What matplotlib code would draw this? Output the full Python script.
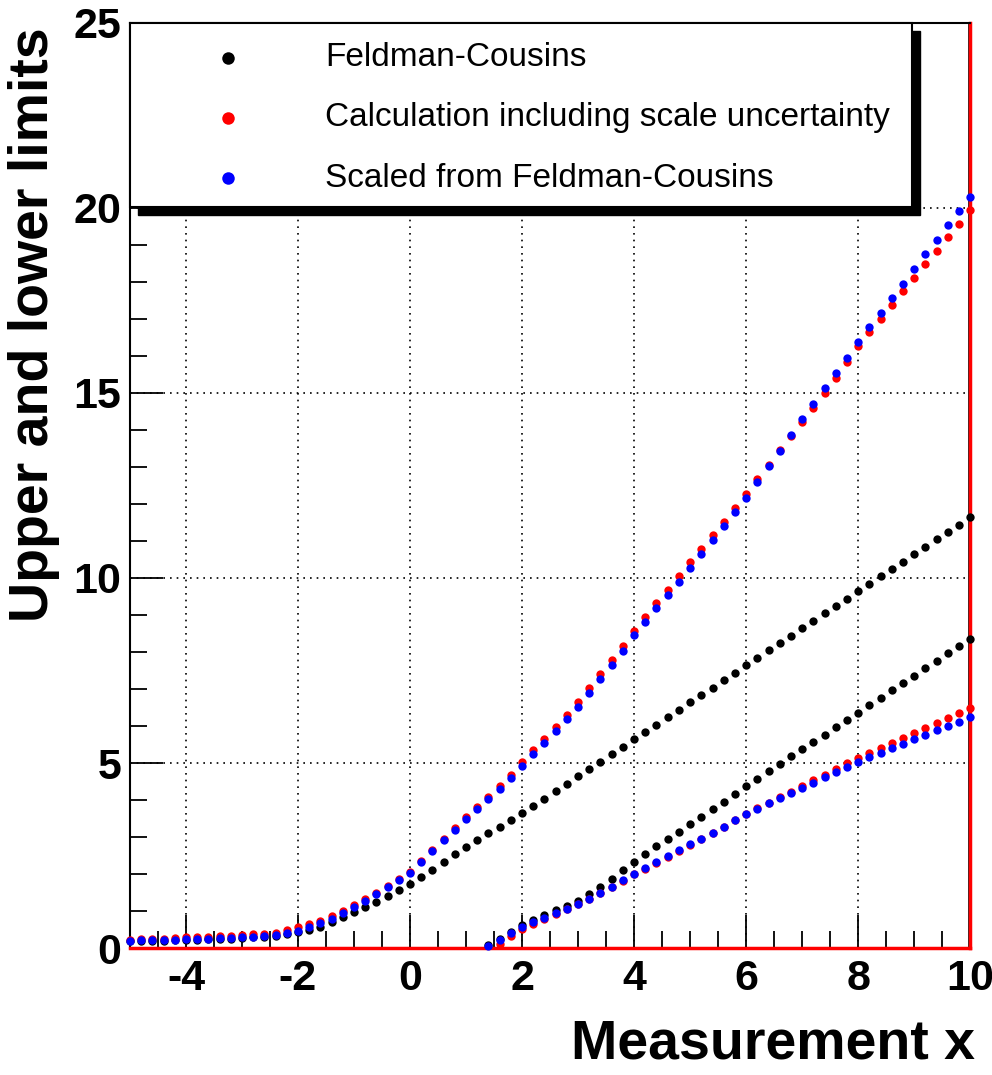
import numpy as np
import matplotlib.pyplot as plt
from matplotlib.patches import Rectangle

plt.rcParams['font.family'] = ['Liberation Sans', 'DejaVu Sans']
plt.rcParams['axes.unicode_minus'] = False

# measurement grid (step 0.2)
x_up = np.round(np.arange(-5.0, 10.01, 0.2), 1)
x_low = np.round(np.arange(1.4, 10.01, 0.2), 1)

# Feldman-Cousins upper limit
fc_upper = [0.18, 0.19, 0.19, 0.20, 0.21, 0.22, 0.23, 0.24, 0.25, 0.26,
            0.27, 0.29, 0.31, 0.33, 0.37, 0.43, 0.50, 0.58, 0.70, 0.84,
            0.98, 1.10, 1.26, 1.42, 1.58, 1.74, 1.93, 2.12, 2.33, 2.54,
            2.74, 2.93, 3.10, 3.28, 3.47, 3.66, 3.84, 4.04, 4.24, 4.44,
            4.64, 4.84, 5.04, 5.24, 5.44, 5.64, 5.84, 6.04, 6.24, 6.44,
            6.64, 6.84, 7.04, 7.24, 7.44, 7.64, 7.84, 8.04, 8.24, 8.44,
            8.64, 8.84, 9.04, 9.24, 9.44, 9.64, 9.84, 10.04, 10.24, 10.44,
            10.64, 10.84, 11.04, 11.24, 11.44, 11.64]

# Calculation including scale uncertainty, upper limit
calc_upper = [0.22, 0.24, 0.25, 0.26, 0.28, 0.29, 0.30, 0.31, 0.32, 0.34,
              0.35, 0.37, 0.39, 0.42, 0.48, 0.56, 0.64, 0.74, 0.86, 1.01,
              1.17, 1.33, 1.50, 1.68, 1.87, 2.06, 2.35, 2.65, 2.95, 3.24,
              3.53, 3.81, 4.09, 4.38, 4.68, 5.02, 5.34, 5.66, 5.98, 6.31,
              6.66, 7.03, 7.40, 7.78, 8.16, 8.57, 8.94, 9.31, 9.68, 10.05,
              10.42, 10.78, 11.15, 11.52, 11.89, 12.26, 12.66, 13.06, 13.46, 13.83,
              14.20, 14.60, 15.00, 15.41, 15.83, 16.26, 16.63, 17.00, 17.37, 17.74,
              18.11, 18.47, 18.84, 19.20, 19.57, 19.94]

# Scaled from Feldman-Cousins, upper limit
scaled_upper = [0.20, 0.21, 0.21, 0.22, 0.23, 0.24, 0.25, 0.26, 0.27, 0.28,
                0.29, 0.30, 0.32, 0.35, 0.40, 0.47, 0.56, 0.68, 0.80, 0.95,
                1.12, 1.28, 1.46, 1.66, 1.85, 2.04, 2.33, 2.63, 2.92, 3.20,
                3.48, 3.76, 4.03, 4.31, 4.60, 4.93, 5.24, 5.55, 5.86, 6.18,
                6.52, 6.90, 7.27, 7.65, 8.03, 8.45, 8.82, 9.18, 9.54, 9.90,
                10.28, 10.65, 11.02, 11.40, 11.77, 12.15, 12.58, 13.01, 13.44, 13.87,
                14.30, 14.71, 15.12, 15.54, 15.95, 16.37, 16.77, 17.16, 17.56, 17.95,
                18.35, 18.74, 19.13, 19.52, 19.91, 20.30]

# lower limits (zero below x ~ 1.3)
fc_lower = [0.08, 0.25, 0.43, 0.62, 0.76, 0.90, 1.03, 1.15, 1.28, 1.46,
            1.66, 1.87, 2.10, 2.34, 2.55, 2.75, 2.95, 3.15, 3.35, 3.55,
            3.75, 3.96, 4.17, 4.38, 4.58, 4.78, 4.98, 5.18, 5.37, 5.57,
            5.77, 5.97, 6.17, 6.36, 6.56, 6.76, 6.96, 7.16, 7.36, 7.56,
            7.76, 7.96, 8.16, 8.36]

calc_lower = [np.nan, 0.12, 0.33, 0.52, 0.66, 0.79, 0.92, 1.05, 1.18, 1.33,
              1.49, 1.65, 1.82, 1.99, 2.15, 2.31, 2.47, 2.63, 2.79, 2.95,
              3.11, 3.28, 3.45, 3.62, 3.78, 3.93, 4.08, 4.23, 4.38, 4.53,
              4.68, 4.84, 4.99, 5.14, 5.27, 5.40, 5.54, 5.68, 5.81, 5.94,
              6.08, 6.21, 6.35, 6.48]

scaled_lower = [0.05, 0.22, 0.40, 0.58, 0.70, 0.82, 0.94, 1.06, 1.19, 1.34,
                1.50, 1.66, 1.83, 2.00, 2.16, 2.32, 2.48, 2.64, 2.80, 2.96,
                3.12, 3.28, 3.45, 3.62, 3.77, 3.91, 4.05, 4.19, 4.33, 4.47,
                4.61, 4.75, 4.90, 5.04, 5.16, 5.28, 5.40, 5.52, 5.64, 5.76,
                5.88, 6.00, 6.12, 6.24]

labels = ['Feldman-Cousins', 'Calculation including scale uncertainty',
          'Scaled from Feldman-Cousins']
colors = ['black', 'red', 'blue']

fig = plt.figure(figsize=(9.92, 10.75), dpi=100)
ax = fig.add_axes([0.131, 0.118, 0.847, 0.861])

ms = 6
ax.plot(x_up, fc_upper, 'o', color='black', ms=ms, mew=0, clip_on=False, zorder=3)
ax.plot(x_low, fc_lower, 'o', color='black', ms=ms, mew=0, clip_on=False, zorder=3)
ax.plot(x_up, calc_upper, 'o', color='red', ms=ms, mew=0, clip_on=False, zorder=4)
ax.plot(x_low, calc_lower, 'o', color='red', ms=ms, mew=0, clip_on=False, zorder=4)
ax.plot(x_up, scaled_upper, 'o', color='blue', ms=ms, mew=0, clip_on=False, zorder=5)
ax.plot(x_low, scaled_lower, 'o', color='blue', ms=ms, mew=0, clip_on=False, zorder=5)

ax.set_xlim(-5, 10)
ax.set_ylim(0, 25)
ax.set_xticks(range(-4, 11, 2))
ax.set_xticks(np.arange(-5, 10.01, 0.5), minor=True)
ax.set_yticks(range(0, 26, 5))
ax.set_yticks(range(0, 26), minor=True)
ax.grid(True, which='major', color='black', linestyle=(0, (1, 3)), linewidth=1.2)

ax.tick_params(which='both', direction='in', top=False, right=False, width=1.3)
ax.tick_params(which='major', length=24)
ax.tick_params(which='minor', length=12)
ax.tick_params(axis='x', which='major', pad=8, labelsize=31)
ax.tick_params(axis='y', which='major', pad=6, labelsize=31)
for t in ax.get_xticklabels() + ax.get_yticklabels():
    t.set_fontweight('bold')

for s in ['top', 'left']:
    ax.spines[s].set_linewidth(1.5)
ax.spines['bottom'].set_color('red')
ax.spines['bottom'].set_linewidth(2.5)
ax.spines['right'].set_color('red')
ax.spines['right'].set_linewidth(2.5)
ax.axvline(9.985, color='black', linewidth=1.2, zorder=2)

# legend box with ROOT-style shadow
shadow = Rectangle((0.0095, -0.0086 + 0.801), 0.931, 0.199, transform=ax.transAxes,
                   facecolor='black', edgecolor='black', zorder=6, clip_on=False)
box = Rectangle((0.0, 0.801), 0.931, 0.199, transform=ax.transAxes,
                facecolor='white', edgecolor='black', linewidth=1.5, zorder=7, clip_on=False)
ax.add_patch(shadow)
ax.add_patch(box)
rows = [0.962, 0.897, 0.832]
for lab, c, yy in zip(labels, colors, rows):
    ax.plot([0.117], [yy], 'o', color=c, ms=9, mew=0, transform=ax.transAxes,
            zorder=8, clip_on=False)
    ax.text(0.232, yy, lab, transform=ax.transAxes, fontsize=24,
            va='center', ha='left', zorder=8)

fig.text(0.983, 0.004, 'Measurement x', fontsize=40, fontweight='bold',
         ha='right', va='bottom')
fig.text(0.034, 0.975, 'Upper and lower limits', fontsize=40, fontweight='bold',
         rotation=90, ha='center', va='top')

fig.savefig('out.png', dpi=100)
